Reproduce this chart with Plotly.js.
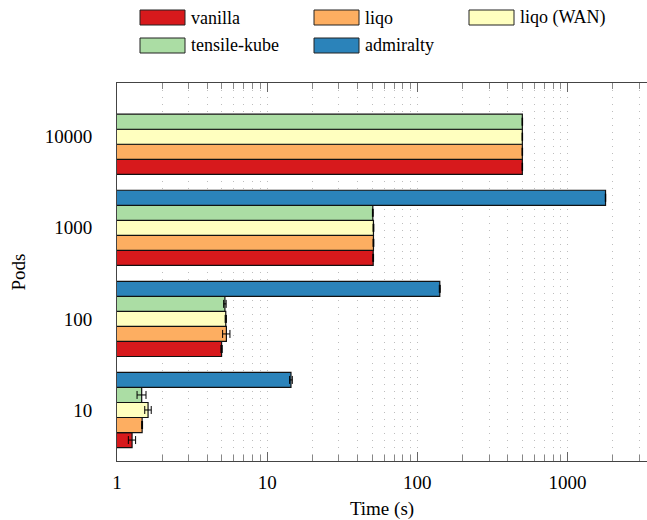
<!DOCTYPE html>
<html>
<head>
<meta charset="utf-8">
<script src="https://cdn.plot.ly/plotly-3.0.1.min.js"></script>
<style>html,body{margin:0;padding:0;background:#fff;}#chart{width:647px;height:520px;}</style>
</head>
<body>
<div id="chart"></div>
<script>
var categories = ["10", "100", "1000", "10000"];
var seriesNames = ["vanilla", "liqo", "liqo (WAN)", "tensile-kube", "admiralty"];
var vanilla = [1.26, 4.97, 50.8, 500];
var vanillaErr = [0.07, 0.05, 0.3, 2];
var liqo = [1.47, 5.35, 51, 500];
var liqoErr = [0.01, 0.3, 0.3, 2];
var liqoWan = [1.61, 5.3, 51, 500];
var liqoWanErr = [0.08, 0.05, 0.3, 2];
var tensile = [1.46, 5.23, 50.5, 500];
var tensileErr = [0.1, 0.1, 0.3, 2];
var admiralty = [14.4, 141, 1790, null];
var admiraltyErr = [0.3, 1, 5, null];
var seriesColors = ["#d7191c", "#fdae61", "#ffffbf", "#abdda4", "#2b83ba"];

var values = [vanilla, liqo, liqoWan, tensile, admiralty];
var errs = [vanillaErr, liqoErr, liqoWanErr, tensileErr, admiraltyErr];

var FONT = "'Liberation Serif', 'Times New Roman', Times, serif";
var W = 647, H = 520;
var M = {l: 117, r: 0, t: 83, b: 59};
var PW = W - M.l - M.r, PH = H - M.t - M.b;
function px(x) { return (x - M.l) / PW; }
function py(y) { return (H - M.b - y) / PH; }

var traces = values.map(function (v, i) {
  return {
    type: "bar",
    orientation: "h",
    name: seriesNames[i],
    y: categories,
    x: v,
    marker: {color: seriesColors[i], line: {color: "#111", width: 1.2}},
    error_x: {type: "data", array: errs[i], visible: true, color: "#000", thickness: 1, width: 4},
    showlegend: false
  };
});

// custom legend (wide swatches like the reference)
var shapes = [], annotations = [];
var legendPos = [[140, 10], [314, 10], [469, 10], [140, 38], [314, 38]];
seriesNames.forEach(function (n, i) {
  var p = legendPos[i];
  shapes.push({type: "rect", xref: "paper", yref: "paper",
    x0: px(p[0]), x1: px(p[0] + 45), y0: py(p[1]), y1: py(p[1] + 15),
    fillcolor: seriesColors[i], line: {color: "#222", width: 1}});
  annotations.push({xref: "paper", yref: "paper", x: px(p[0] + 49), y: py(p[1] + 7.5),
    xanchor: "left", yanchor: "middle", showarrow: false, text: n,
    font: {family: FONT, size: 18, color: "#000"}});
});

var minorVals = [2,3,4,5,6,7,8,9,20,30,40,50,60,70,80,90,200,300,400,500,600,700,800,900,2000,3000];

var layout = {
  width: W, height: H,
  margin: M,
  paper_bgcolor: "#fff", plot_bgcolor: "#fff",
  barmode: "group", bargap: 0.175, bargroupgap: 0,
  font: {family: FONT, color: "#000", size: 19},
  showlegend: false,
  xaxis: {
    type: "log", range: [0, 3.529],
    tickvals: [1, 10, 100, 1000], ticktext: ["1", "10", "100", "1000"],
    ticks: "inside", ticklen: 9, tickcolor: "#666", tickwidth: 1,
    showline: true, linecolor: "#444", linewidth: 1, mirror: "ticks",
    showgrid: true, gridcolor: "#bdbdbd", griddash: "1px,6px", gridwidth: 1,
    zeroline: false,
    tickfont: {family: FONT, size: 19, color: "#000"},
    ticklabelstandoff: 4,
    minor: {ticks: "inside", ticklen: 6, tickcolor: "#888", showgrid: true, gridcolor: "#bdbdbd", griddash: "1px,6px", gridwidth: 1,
      tickvals: minorVals},
    title: {text: "Time (s)", font: {family: FONT, size: 19, color: "#000"}, standoff: 12}
  },
  yaxis: {
    type: "category", range: [-0.56, 3.59],
    ticks: "", showline: true, linecolor: "#444", linewidth: 1, mirror: true,
    showgrid: false, zeroline: false,
    tickfont: {family: FONT, size: 19, color: "#000"},
    ticklabelstandoff: 20,
    title: {text: "Pods", font: {family: FONT, size: 19, color: "#000"}, standoff: 14}
  },
  shapes: shapes,
  annotations: annotations
};

Plotly.newPlot("chart", traces, layout, {displayModeBar: false, staticPlot: true});
</script>
</body>
</html>
